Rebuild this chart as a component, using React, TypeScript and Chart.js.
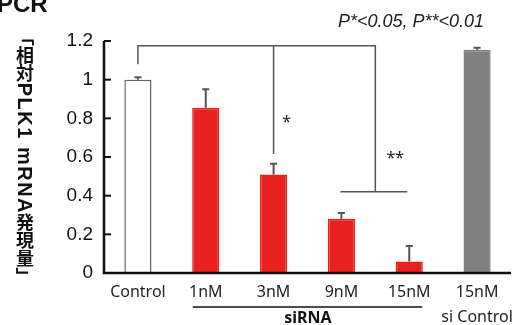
import React, { useEffect, useRef } from "react";
import { Chart, registerables } from "chart.js";

Chart.register(...registerables);

const categories = ["Control", "1nM", "3nM", "9nM", "15nM", "15nM"];
const values = [1.0, 0.855, 0.51, 0.28, 0.06, 1.155];
const errors = [0.012, 0.095, 0.055, 0.03, 0.08, 0.01];
const barColors = ["#ffffff", "#e8201e", "#e8201e", "#e8201e", "#e8201e", "#808080"];
const borderColors = ["#666666", "#e8201e", "#e8201e", "#e8201e", "#e8201e", "#808080"];
const yTicks = [0, 0.2, 0.4, 0.6, 0.8, 1, 1.2];
// significance bracket levels (value units)
const bracketTop = 1.176;
const bracketControlEnd = 1.08;
const bracket3nMEnd = 0.615;
const bracketLow = 0.42;
const yTitle = "「相対PLK1 mRNA発現量」";
const pText = "P*<0.05, P**<0.01";

const FONT = "'Noto Sans', 'Liberation Sans', sans-serif";

const overlay = {
  id: "overlay",
  afterDatasetsDraw(chart: any) {
    const { ctx, chartArea, scales } = chart;
    const x = scales.x;
    const y = scales.y;
    const cx = (i: number) => x.getPixelForValue(i);
    ctx.save();
    // error bars
    ctx.strokeStyle = "#555";
    ctx.lineWidth = 2;
    values.forEach((v, i) => {
      const px = cx(i);
      const y0 = y.getPixelForValue(v);
      const y1 = y.getPixelForValue(v + errors[i]);
      ctx.beginPath();
      ctx.moveTo(px, y0);
      ctx.lineTo(px, y1);
      ctx.moveTo(px - 3.5, y1);
      ctx.lineTo(px + 3.5, y1);
      ctx.stroke();
    });
    // axes
    ctx.strokeStyle = "#111";
    ctx.lineWidth = 2.5;
    ctx.beginPath();
    ctx.moveTo(chartArea.left, chartArea.top);
    ctx.lineTo(chartArea.left, chartArea.bottom);
    ctx.lineTo(chartArea.right, chartArea.bottom);
    ctx.stroke();
    ctx.lineWidth = 2;
    yTicks.forEach((t) => {
      const py = y.getPixelForValue(t);
      ctx.beginPath();
      ctx.moveTo(chartArea.left, py);
      ctx.lineTo(chartArea.left + 7, py);
      ctx.stroke();
    });
    // brackets
    ctx.strokeStyle = "#555";
    ctx.lineWidth = 1.5;
    const xMid = (cx(3) + cx(4)) / 2;
    const yT = y.getPixelForValue(bracketTop);
    ctx.beginPath();
    ctx.moveTo(cx(0), y.getPixelForValue(bracketControlEnd));
    ctx.lineTo(cx(0), yT);
    ctx.lineTo(xMid, yT);
    ctx.lineTo(xMid, y.getPixelForValue(bracketLow));
    ctx.moveTo(cx(2), yT);
    ctx.lineTo(cx(2), y.getPixelForValue(bracket3nMEnd));
    ctx.moveTo(cx(3) - 1, y.getPixelForValue(bracketLow));
    ctx.lineTo(cx(4) - 2, y.getPixelForValue(bracketLow));
    ctx.stroke();
    ctx.fillStyle = "#222";
    ctx.font = `16px ${FONT}`;
    ctx.textAlign = "center";
    ctx.textBaseline = "middle";
    ctx.fillText("*", cx(2) + 13, 122);
    ctx.fillText("**", xMid + 20, 158);
    // siRNA line + labels
    ctx.strokeStyle = "#111";
    ctx.lineWidth = 1.5;
    ctx.beginPath();
    ctx.moveTo(cx(1) - 13, 307);
    ctx.lineTo(cx(4) + 13, 307);
    ctx.stroke();
    ctx.font = `bold 16px ${FONT}`;
    ctx.fillStyle = "#111";
    ctx.fillText("siRNA", (cx(1) + cx(4)) / 2 + 0.5, 318);
    ctx.font = `16px ${FONT}`;
    ctx.fillStyle = "#222";
    ctx.fillText("si Control", cx(5), 317);
    // title
    ctx.textAlign = "left";
    ctx.textBaseline = "alphabetic";
    ctx.font = `bold 24px 'Liberation Sans', sans-serif`;
    ctx.fillStyle = "#111";
    ctx.fillText("PCR", -3, 12);
    ctx.font = `italic 18px 'Liberation Sans', sans-serif`;
    ctx.fillStyle = "#222";
    ctx.fillText(pText, 338, 27);
    // vertical y title (tategaki: CJK upright, Latin rotated)
    const cjkSize = 18;
    const latinSize = 20;
    const cap = latinSize * 0.716;
    ctx.fillStyle = "#111";
    let py = 28;
    const tx = 25;
    for (const ch of yTitle) {
      if (/[\u4e00-\u9fff]/.test(ch)) {
        ctx.font = `bold ${cjkSize}px 'Noto Sans CJK JP'`;
        ctx.textAlign = "center";
        ctx.textBaseline = "middle";
        ctx.fillText(ch, tx, py + cjkSize / 2);
        py += cjkSize;
      } else if (/[「」]/.test(ch)) {
        ctx.font = `bold ${cjkSize}px 'Noto Sans CJK JP'`;
        ctx.textAlign = "left";
        ctx.textBaseline = "middle";
        ctx.save();
        ctx.translate(tx, py);
        ctx.rotate(Math.PI / 2);
        ctx.fillText(ch, 0, 0);
        ctx.restore();
        py += cjkSize;
      } else {
        ctx.font = `bold ${latinSize}px 'Liberation Sans', sans-serif`;
        ctx.textAlign = "left";
        ctx.textBaseline = "alphabetic";
        const w = ctx.measureText(ch).width;
        ctx.save();
        ctx.translate(tx - cap / 2, py + 0.75);
        ctx.rotate(Math.PI / 2);
        ctx.fillText(ch, 0, 0);
        ctx.restore();
        py += w + 1.5;
      }
    }
    ctx.restore();
  },
};

export default function App() {
  const ref = useRef<HTMLCanvasElement>(null);
  useEffect(() => {
    const chart = new Chart(ref.current!, {
      type: "bar",
      data: {
        labels: categories,
        datasets: [
          {
            data: values,
            backgroundColor: barColors,
            borderColor: borderColors,
            borderWidth: 1.5,
            barPercentage: 0.4,
            categoryPercentage: 1,
          },
        ],
      },
      options: {
        animation: false,
        responsive: true,
        maintainAspectRatio: false,
        layout: { padding: { top: 41, right: 7, left: 0, bottom: 0 } },
        plugins: { legend: { display: false }, tooltip: { enabled: false } },
        scales: {
          x: {
            grid: { display: false, drawTicks: false },
            border: { display: false },
            ticks: { color: "#222", font: { family: FONT, size: 16 }, padding: 10 },
            afterFit: (s: any) => {
              s.height = 52;
            },
          },
          y: {
            min: 0,
            max: 1.2,
            grid: { display: false, drawTicks: false },
            border: { display: false },
            afterBuildTicks: (s: any) => {
              s.ticks = yTicks.map((v) => ({ value: v }));
            },
            ticks: {
              color: "#111",
              padding: 11,
              font: { family: "'Liberation Sans', sans-serif", size: 19 },
              callback: (v: any) => String(Math.round(Number(v) * 10) / 10),
            },
            afterFit: (s: any) => {
              s.width = 104;
            },
          },
        },
      },
      plugins: [overlay],
    });
    return () => chart.destroy();
  }, []);
  return (
    <div style={{ position: "fixed", left: 0, top: 0, width: 518, height: 325 }}>
      <canvas ref={ref} />
    </div>
  );
}
